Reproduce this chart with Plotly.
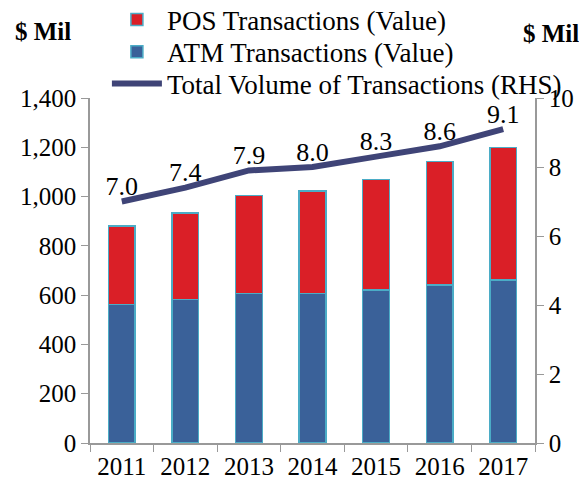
import plotly.graph_objects as go

years = ["2011", "2012", "2013", "2014", "2015", "2016", "2017"]
atm_value = [563, 583, 607, 607, 621, 641, 661]
pos_value = [317, 351, 397, 416, 449, 501, 539]
total_volume = [7.0, 7.4, 7.9, 8.0, 8.3, 8.6, 9.1]
volume_labels = ["7.0", "7.4", "7.9", "8.0", "8.3", "8.6", "9.1"]

FONT = "Liberation Serif, Times New Roman, serif"
edge = dict(color="#4BACC6", width=1.5)

fig = go.Figure()
fig.add_trace(go.Bar(x=years, y=atm_value, name="ATM Transactions (Value)",
                     marker=dict(color="#3A6199", line=edge), legend="legend2"))
fig.add_trace(go.Bar(x=years, y=pos_value, name="POS Transactions (Value)",
                     marker=dict(color="#DA1F27", line=edge), legend="legend"))
fig.add_trace(go.Scatter(x=years, y=total_volume, name="Total Volume of Transactions (RHS)",
                         yaxis="y2", mode="lines+text", text=volume_labels,
                         textposition="top center", textfont=dict(size=26, color="black", family=FONT),
                         line=dict(color="#3F4477", width=6), legend="legend3"))

axis_common = dict(showgrid=False, showline=True, linecolor="#999999", linewidth=1.5,
                   ticks="outside", tickcolor="#999999", ticklen=7,
                   tickfont=dict(size=25, color="black", family=FONT), zeroline=False)

legend_common = dict(x=0.038, xanchor="left", yanchor="middle", bgcolor="rgba(0,0,0,0)",
                     font=dict(size=27, family=FONT, color="black"), itemwidth=50)

# the page adds an 8px body margin, so the figure is sized/offset to compensate
fig.update_layout(
    width=579, height=476,
    margin=dict(l=82, r=52, t=90, b=41, autoexpand=False),
    paper_bgcolor="white", plot_bgcolor="white",
    barmode="stack", bargap=0.58,
    font=dict(family=FONT, size=24, color="black"),
    xaxis=dict(**axis_common, tickson="boundaries"),
    yaxis=dict(**axis_common, range=[0, 1400], dtick=200, tickformat=",d"),
    yaxis2=dict(**axis_common, range=[0, 10], dtick=2, overlaying="y", side="right"),
    legend=dict(**legend_common, y=1.226),
    legend2=dict(**legend_common, y=1.133),
    legend3=dict(**legend_common, y=1.041),
    showlegend=True,
    annotations=[
        dict(text="<b>$ Mil</b>", xref="paper", yref="paper", x=-0.106, y=1.194,
             xanchor="center", yanchor="middle",
             showarrow=False, font=dict(size=25, family=FONT)),
        dict(text="<b>$ Mil</b>", xref="paper", yref="paper", x=1.035, y=1.186,
             xanchor="center", yanchor="middle",
             showarrow=False, font=dict(size=25, family=FONT)),
    ],
)

fig.write_html("out.html")
